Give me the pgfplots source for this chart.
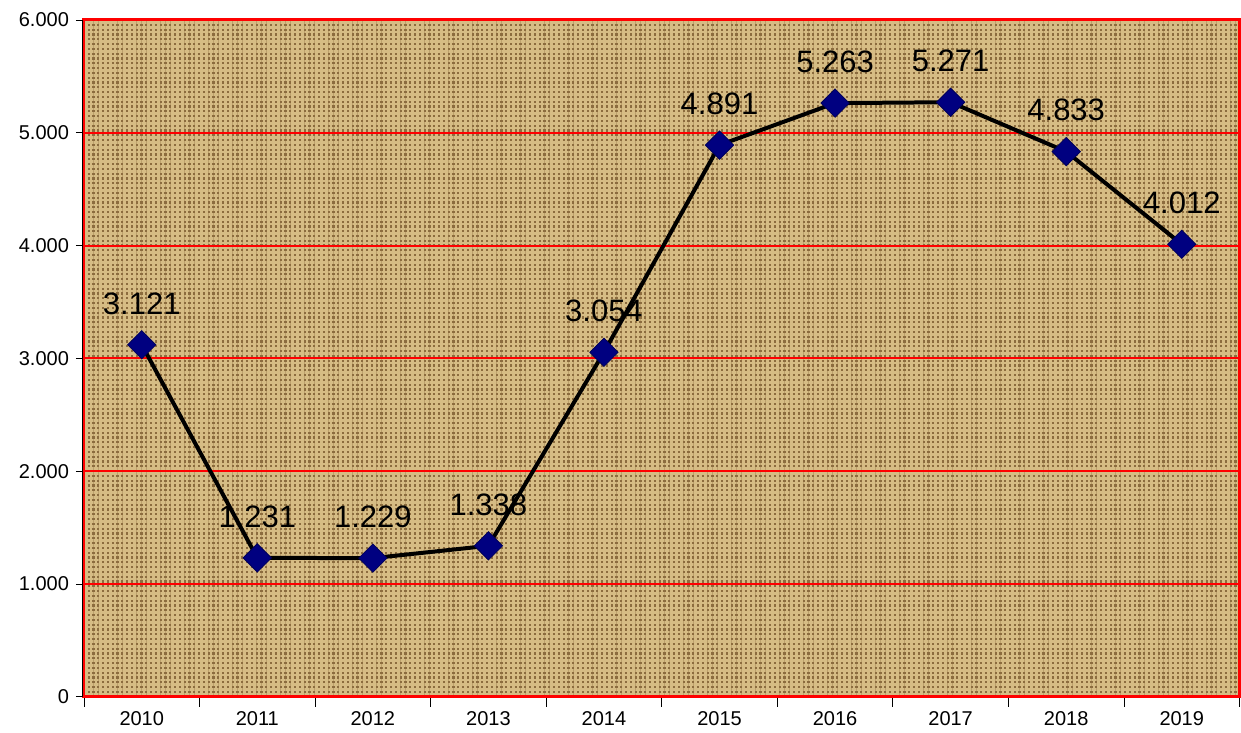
\documentclass[border=0pt]{standalone}
\usepackage{fontspec}
\setmainfont{Liberation Sans}
\usepackage{pgfplots}
\pgfplotsset{compat=1.18}
\usetikzlibrary{patterns.meta}

\definecolor{burlapbase}{RGB}{140,108,62}
\definecolor{burlapthread}{RGB}{214,188,132}
\definecolor{gridred}{RGB}{255,0,0}
\definecolor{marknavy}{RGB}{0,0,128}

\begin{document}
\begin{tikzpicture}
\begin{axis}[
    scale only axis,
    width=578pt, height=338.5pt,
    xmin=-0.5, xmax=9.5,
    ymin=0, ymax=6000,
    xtick={0,...,9},
    xticklabels={2010,2011,2012,2013,2014,2015,2016,2017,2018,2019},
    minor xtick={-0.5,0.5,...,9.5},
    major x tick style={draw=none},
    minor x tick style={black, thin},
    minor tick length=5pt,
    ytick={0,1000,...,6000},
    y tick style={black, thin},
    major tick length=4pt,
    tick align=outside,
    tick pos=left,
    scaled y ticks=false,
    /pgf/number format/.cd, 1000 sep={.}, assume math mode=true,
    /pgfplots/.cd,
    ticklabel style={font=\fontsize{10}{12}\selectfont},
    ymajorgrids,
    grid style={gridred, line width=1pt},
    axis line style={gridred, line width=1.5pt},
    axis background/.style={fill=burlapbase,
        postaction={pattern={Hatch[angle=0,distance=2.4pt,line width=1.3pt]},
                    pattern color=burlapthread}},
    nodes near coords,
    every node near coord/.append style={anchor=south, inner sep=0pt,
        yshift=15pt, black, font=\fontsize{15.5}{17}\selectfont},
    clip=false,
]
\addplot[black, line width=2pt, mark=square*,
    mark options={rotate=45, fill=marknavy, draw=marknavy!70!black, line width=0.4pt},
    mark size=5pt]
coordinates {(0,3121)(1,1231)(2,1229)(3,1338)(4,3054)(5,4891)(6,5263)(7,5271)(8,4833)(9,4012)};
\end{axis}
\draw[black, thin] ([xshift=-0.9pt]current axis.south west) -- ([xshift=-0.9pt]current axis.north west);
\path ([shift={(-42pt,-14.5pt)}]current axis.south west)
  rectangle ([shift={(0.5pt,10pt)}]current axis.north east);
\end{tikzpicture}
\end{document}
